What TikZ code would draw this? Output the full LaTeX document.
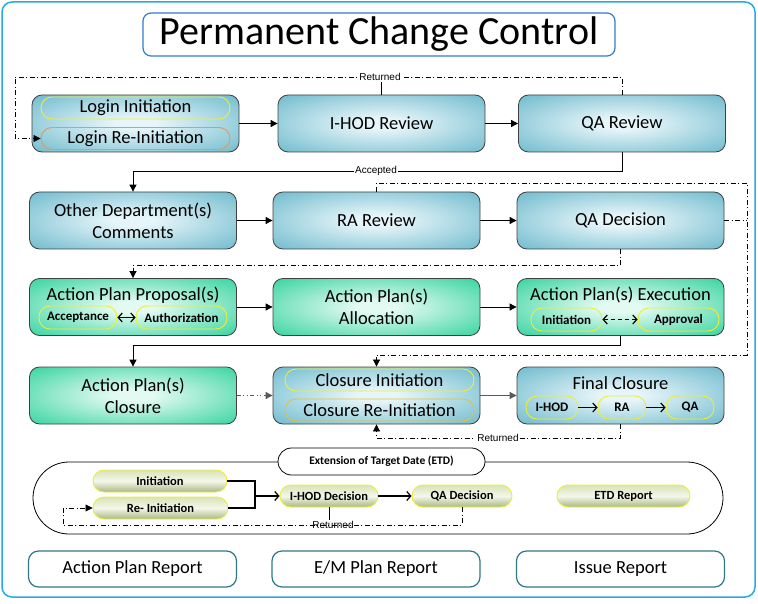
\documentclass[tikz,border=0pt]{standalone}
\usepackage{fontspec}
\setmainfont{Carlito}
\newfontfamily\lblfont{Liberation Sans}
\usetikzlibrary{positioning,arrows.meta,calc}

\definecolor{bxBlue}{HTML}{66B6CA}
\definecolor{bxBlueC}{HTML}{E6F5F9}
\definecolor{bxGreen}{HTML}{2AD19A}
\definecolor{bxGreenC}{HTML}{E2FAF1}
\definecolor{frameBlue}{HTML}{29A9E1}
\definecolor{titleBlue}{HTML}{2F7DD1}
\definecolor{pillYellow}{HTML}{EDED3A}
\definecolor{pillOrange}{HTML}{E39A5C}
\definecolor{pillGold}{HTML}{E2C23A}
\definecolor{reportTeal}{HTML}{2F7888}
\definecolor{etdTop}{HTML}{D9E3B6}
\definecolor{etdMid}{HTML}{F4F7EA}
\definecolor{etdBot}{HTML}{A9B882}

\pgfdeclareradialshading{blueshade}{\pgfpoint{0bp}{0bp}}{color(0bp)=(bxBlueC); color(5bp)=(bxBlueC); color(38bp)=(bxBlue); color(80bp)=(bxBlue)}
\pgfdeclareradialshading{greenshade}{\pgfpoint{0bp}{0bp}}{color(0bp)=(bxGreenC); color(5bp)=(bxGreenC); color(38bp)=(bxGreen); color(80bp)=(bxGreen)}

\tikzset{
  flowbox/.style={draw=black!75, line width=0.8pt, rounded corners=10pt,
    minimum width=207pt, minimum height=57pt, inner sep=0pt, align=center,
    font=\fontsize{18.5}{22}\selectfont},
  bluebox/.style={flowbox, shade, shading=blueshade},
  greenbox/.style={flowbox, shade, shading=greenshade},
  boxtitle/.style={inner sep=0pt, font=\fontsize{18.5}{22}\selectfont},
  pill/.style={draw=pillYellow, line width=0.9pt, rounded corners=11pt,
    minimum height=22pt, inner sep=0pt},
  bigpill/.style={pill, minimum width=189pt, font=\fontsize{18.5}{22}\selectfont},
  smallpill/.style={pill, minimum height=23pt, font=\bfseries\fontsize{13}{15}\selectfont},
  etdpill/.style={pill, top color=etdTop, bottom color=etdBot, middle color=etdMid,
    font=\bfseries\fontsize{12.5}{14}\selectfont},
  report/.style={draw=reportTeal, line width=1.2pt, rounded corners=10pt, fill=white,
    minimum width=208pt, minimum height=36pt, font=\fontsize{18.5}{22}\selectfont},
  lbl/.style={font=\lblfont\fontsize{10}{12}\selectfont, inner sep=1pt, fill=white},
  conn/.style={line width=0.9pt, black},
  arr/.style={-{Triangle[length=7pt,width=7pt]}},
  dashdot/.style={line width=0.7pt, dash pattern=on 5pt off 2.5pt on 1pt off 2.5pt},
  barb/.style={line width=1.2pt, -{Straight Barb[length=4pt,width=9pt]}},
}

\newcommand{\myBox}[5]{
    \node[#1] (#2) at (#3,#4) {#5};
}

\begin{document}
\begin{tikzpicture}[x=1pt,y=-1pt]
  \useasboundingbox (0,0) rectangle (758,604);
  \draw[frameBlue, line width=1.5pt, rounded corners=10pt] (2,2) rectangle (755,597);

  \node[draw=titleBlue, line width=1.2pt, rounded corners=8pt, minimum width=472pt,
    minimum height=43pt, inner sep=0pt, font=\fontsize{40}{42}\selectfont]
    (title) at (379,34.5) {Permanent Change Control};

  % row 1
  \myBox{bluebox}{login}{135.5}{123.5}{}
  \myBox{bluebox}{ihod}{381.5}{123.5}{I-HOD Review}
  \myBox{bluebox}{qar}{622}{123.5}{QA Review}
  \myBox{bigpill}{loginIni}{135.5}{108}{Login Initiation}
  \myBox{bigpill, draw=pillOrange}{loginRe}{135.5}{138.5}{Login Re-Initiation}

  % row 2
  \myBox{bluebox}{odc}{133}{220.5}{Other Department(s)\\Comments}
  \myBox{bluebox}{ra}{376.5}{220.5}{RA Review}
  \myBox{bluebox}{qad}{620.5}{220.5}{QA Decision}

  % row 3
  \myBox{greenbox}{app}{133}{307}{}
  \myBox{greenbox}{apa}{376.5}{307}{Action Plan(s)\\Allocation}
  \myBox{greenbox}{ape}{620.5}{307}{}
  \myBox{boxtitle}{appT}{133}{295}{Action Plan Proposal(s)}
  \myBox{smallpill, minimum width=78pt}{accp}{78}{317.5}{Acceptance}
  \myBox{smallpill, minimum width=91pt}{auth}{181.5}{317.5}{Authorization}
  \myBox{boxtitle}{apeT}{620.5}{295}{Action Plan(s) Execution}
  \myBox{smallpill, minimum width=71pt}{apeIni}{566.5}{319.5}{Initiation}
  \myBox{smallpill, minimum width=81pt}{apeApp}{678.5}{319.5}{Approval}

  % row 4
  \myBox{greenbox}{apc}{133}{395.5}{Action Plan(s)\\Closure}
  \myBox{bluebox}{clo}{376.5}{395.5}{}
  \myBox{bluebox}{fin}{620.5}{395.5}{}
  \myBox{bigpill}{cloIni}{379.5}{380}{Closure Initiation}
  \myBox{bigpill, draw=pillGold}{cloRe}{379.5}{410}{Closure Re-Initiation}
  \myBox{boxtitle}{finT}{620.5}{383}{Final Closure}
  \myBox{smallpill, minimum width=52pt}{finH}{552}{407.5}{I-HOD}
  \myBox{smallpill, minimum width=48pt}{finR}{622}{407.5}{RA}
  \myBox{smallpill, minimum width=48pt}{finQ}{690}{407.5}{QA}

  % connectors
  \coordinate (retNW) at (15,77);
  \coordinate (loopNE) at (747,183);
  \coordinate (loopSE) at (747,355);
  \draw[conn, arr] (login) -- (ihod);
  \draw[conn, arr] (ihod) -- (qar);
  \draw[conn, dashdot, arr] (qar.north) |- (retNW) |- (loginRe.west);
  \node[lbl] (retTop) at (380,77) {Returned};
  \draw[conn] (ihod.north) -- (ihod.north |- retTop.south);

  \draw[conn, arr] (qar.south) -- ++(0,19) -| (odc.north);
  \node[lbl] (accTop) at (376,171) {Accepted};
  \draw[conn, arr] (odc) -- (ra);
  \draw[conn, arr] (ra) -- (qad);
  \draw[conn, dashdot, arr] (ra.north) |- (loopNE) -- (loopSE) -| (clo.north);
  \draw[conn, dashdot] (qad.east) -- (qad.east -| loopNE);
  \draw[conn, dashdot, arr] (qad.south) -- ++(0,16) -| (app.north);

  \draw[conn, arr] (app) -- (apa);
  \draw[conn, arr] (apa) -- (ape);
  \draw[barb, {Straight Barb[length=4pt,width=9pt]}-{Straight Barb[length=4pt,width=9pt]}] (accp) -- (auth);
  \draw[barb, dash pattern=on 4pt off 3pt, {Straight Barb[length=4pt,width=9pt]}-{Straight Barb[length=4pt,width=9pt]}] (apeIni) -- (apeApp);
  \draw[conn, arr] (ape.south) -- ++(0,10) -| (apc.north);

  \draw[conn, black!65, arr, dash pattern=on 4pt off 2.5pt on 1pt off 2.5pt on 1pt off 2.5pt] (apc) -- (clo);
  \draw[conn, black!65, arr] (clo) -- (fin);
  \draw[barb] (finH) -- (finR);
  \draw[barb] (finR) -- (finQ);
  \draw[conn, dashdot, arr] (fin.south) -- ++(0,14) -| (clo.south);
  \node[lbl] (retBot) at (498,438) {Returned};

  % extension of target date
  \node[draw, line width=0.8pt, rounded corners=36pt, minimum width=690pt,
    minimum height=72pt, inner sep=0pt] (etd) at (378,498) {};
  \node[draw, line width=0.8pt, rounded corners=13.5pt, fill=white, minimum width=207pt,
    minimum height=27pt, inner sep=0pt, font=\bfseries\fontsize{11.5}{13}\selectfont]
    (etdT) at (381.5,461.5) {Extension of Target Date (ETD)};
  \myBox{etdpill, minimum width=134pt}{etdIni}{160}{481}{Initiation}
  \myBox{etdpill, minimum width=135pt}{etdRe}{160.5}{508}{Re- Initiation}
  \myBox{etdpill, minimum width=98pt}{etdH}{329}{496}{I-HOD Decision}
  \myBox{etdpill, minimum width=100pt}{etdQ}{462}{496}{QA Decision}
  \myBox{etdpill, minimum width=133pt}{etdRep}{623.5}{496}{ETD Report}

  \coordinate (etdJ) at (255,496);
  \coordinate (etdRet) at (63,525);
  \draw[line width=1.2pt] (etdIni.east) -| (etdJ |- etdRe.east) -- (etdRe.east);
  \draw[barb] (etdJ) -- (etdH);
  \draw[barb] (etdH) -- (etdQ);
  \draw[conn, dashdot, arr] (etdQ.south) |- (etdRet) |- (etdRe.west);
  \node[lbl, fill=none] (retEtd) at (333,525) {Returned};
  \draw[conn] (etdH.south) -- (etdH.south |- retEtd.north);

  % reports
  \myBox{report}{rAP}{132.5}{569}{Action Plan Report}
  \myBox{report}{rEM}{376}{569}{E/M Plan Report}
  \myBox{report}{rIs}{620.5}{569}{Issue Report}
\end{tikzpicture}
\end{document}
